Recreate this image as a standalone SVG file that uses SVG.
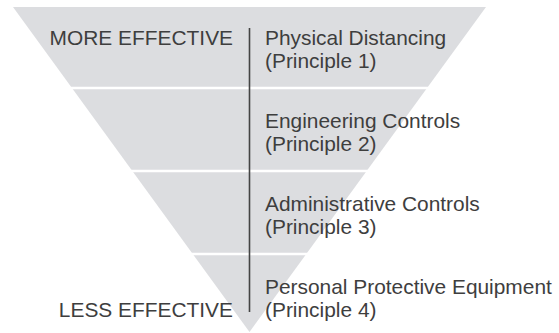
<svg xmlns="http://www.w3.org/2000/svg" width="559" height="333" viewBox="0 0 559 333">
<style>
text{font-family:"Liberation Sans",Arial,sans-serif;font-size:20.9px;fill:#3e3e3e}
.r{text-anchor:end}
.band{stroke:#ffffff;stroke-width:2.5}
</style>
<rect width="559" height="333" fill="#ffffff"/>
<g id="pyramid">
<polygon points="13,7 486,7 249.5,332" fill="#dcdde0"/>
<line class="band" x1="0" y1="88" x2="559" y2="88"/>
<line class="band" x1="0" y1="171" x2="559" y2="171"/>
<line class="band" x1="0" y1="254" x2="559" y2="254"/>
</g>
<g id="connectors">
<line x1="249.5" y1="28" x2="249.5" y2="312" stroke="#444444" stroke-width="1.6"/>
</g>
<g id="more"><text class="r" x="233" y="45">MORE EFFECTIVE</text></g>
<g id="less"><text class="r" x="233" y="317">LESS EFFECTIVE</text></g>
<g id="p1"><text x="265" y="45">Physical Distancing</text><text x="265" y="68">(Principle 1)</text></g>
<g id="p2"><text x="265" y="128">Engineering Controls</text><text x="265" y="151">(Principle 2)</text></g>
<g id="p3"><text x="265" y="211">Administrative Controls</text><text x="265" y="234">(Principle 3)</text></g>
<g id="p4"><text x="265" y="294">Personal Protective Equipment</text><text x="265" y="317">(Principle 4)</text></g>
</svg>
